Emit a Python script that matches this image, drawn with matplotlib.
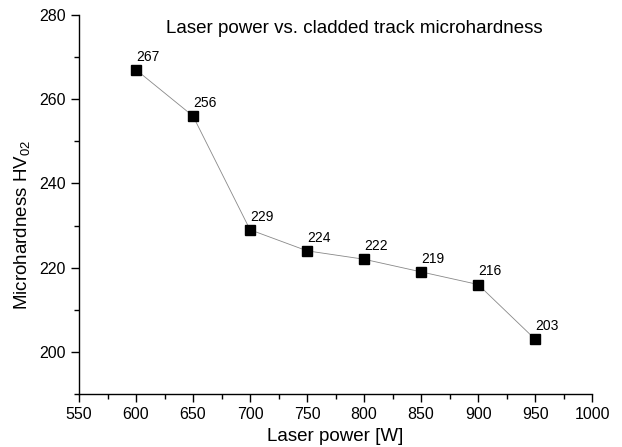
import matplotlib
matplotlib.use("Agg")
import matplotlib.pyplot as plt
from matplotlib.ticker import MultipleLocator

power = [600, 650, 700, 750, 800, 850, 900, 950]
hardness = [267, 256, 229, 224, 222, 219, 216, 203]

plt.rcParams['font.family'] = ['Liberation Sans', 'DejaVu Sans']
plt.rcParams['mathtext.fontset'] = 'custom'
plt.rcParams['mathtext.rm'] = 'Liberation Sans'
plt.rcParams['mathtext.it'] = 'Liberation Sans'

fig = plt.figure(figsize=(6.22, 4.47), dpi=100)
ax = fig.add_axes([0.127, 0.1186, 0.825, 0.8478])

ax.plot(power, hardness, color='#888888', lw=0.6, marker='s', ms=6.5,
        mfc='black', mec='black', zorder=3)
for x, y in zip(power, hardness):
    ax.annotate(f"{y}", (x, y), xytext=(0, 6.5), textcoords='offset points',
                fontsize=10, ha='left', va='baseline')

ax.set_xlim(550, 1000)
ax.set_ylim(190, 280)
ax.set_xticks(range(550, 1001, 50))
ax.set_yticks(range(200, 281, 20))
ax.xaxis.set_minor_locator(MultipleLocator(25))
ax.yaxis.set_minor_locator(MultipleLocator(10))
ax.tick_params(which='major', direction='out', length=6, width=1, labelsize=11.5)
ax.tick_params(which='minor', direction='out', length=3.5, width=1)
for s in ['top', 'right']:
    ax.spines[s].set_visible(False)
for s in ['left', 'bottom']:
    ax.spines[s].set_linewidth(1)

ax.set_xlabel("Laser power [W]", fontsize=13.5, labelpad=4.5)
ax.set_ylabel("Microhardness HV$_{02}$", fontsize=13.5)
ax.yaxis.set_label_coords(-0.092, 0.446)
ax.text(0.537, 0.964, "Laser power vs. cladded track microhardness",
        transform=ax.transAxes, ha='center', va='center', fontsize=13.5)

fig.savefig("out.png", dpi=100)
